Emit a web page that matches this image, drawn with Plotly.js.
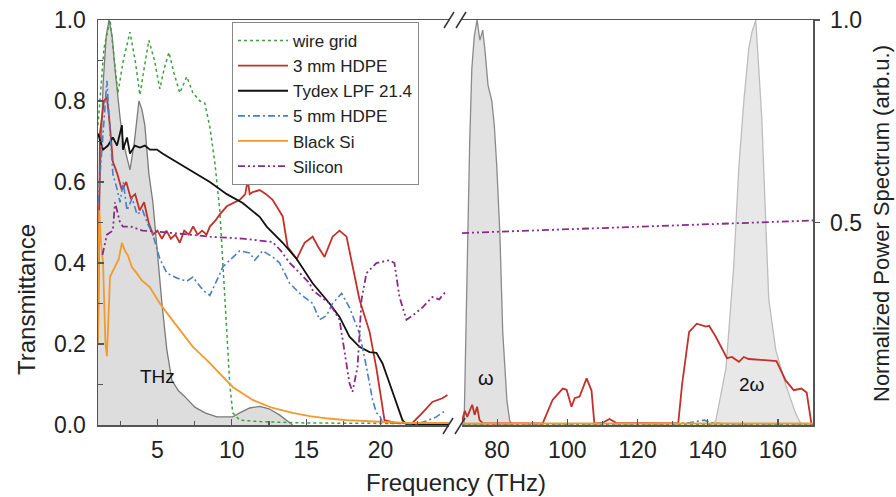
<!DOCTYPE html>
<html>
<head>
<meta charset="utf-8">
<script src="https://cdn.plot.ly/plotly-3.0.1.min.js"></script>
<style>html,body{margin:0;padding:0;background:#fff;}#chart{width:896px;height:497px;}</style>
</head>
<body>
<div id="chart"></div>
<script>
// ---------- DATA ----------
// THz pump spectrum (normalized power, left panel)
const thzFreq = [1.0,1.13,1.34,1.55,1.74,1.95,2.14,2.48,2.68,3.15,3.45,3.75,3.95,4.15,4.42,4.69,5.0,5.3,5.63,5.97,6.4,6.84,7.51,8.2,8.99,10.06,10.53,11.2,11.87,12.5,13.2,14.09];
const thzPow  = [0.45,0.62,0.84,0.96,1.0,0.96,0.88,0.76,0.70,0.63,0.70,0.80,0.78,0.74,0.62,0.55,0.42,0.30,0.185,0.11,0.085,0.07,0.044,0.03,0.02,0.02,0.03,0.042,0.046,0.04,0.025,0.0];
// fundamental (omega) spectrum, right panel
const wFreq = [70.6,71.0,71.5,72.2,72.8,73.5,74.3,75.1,75.9,76.6,77.4,78.5,79.2,79.9,80.8,81.6,82.8,83.6,84.5];
const wPow  = [0.0,0.15,0.40,0.70,0.88,0.96,1.0,0.95,0.975,0.92,0.84,0.80,0.74,0.64,0.47,0.23,0.06,0.01,0.0];
// second harmonic (2 omega) spectrum, right panel
const w2Freq = [141.0,142.3,145.2,147.4,148.9,150.3,151.7,152.6,153.7,154.5,155.4,156.5,157.4,159.4,162.2,165.0,166.7];
const w2Pow  = [0.0,0.01,0.14,0.39,0.64,0.80,0.93,0.97,1.0,0.88,0.76,0.51,0.31,0.185,0.10,0.03,0.0];

// wire grid
const wireFreqL = [1.0,1.13,1.4,1.81,2.05,2.34,2.7,3.15,3.5,3.82,4.1,4.42,4.8,5.16,5.45,5.77,6.1,6.5,6.97,7.38,7.85,8.18,8.52,8.85,9.19,9.39,9.66,9.86,10.06,10.53,12,15,20,24.6];
const wireTL    = [0.74,0.80,0.93,1.0,0.92,0.82,0.90,0.97,0.90,0.815,0.88,0.95,0.90,0.83,0.88,0.92,0.87,0.82,0.86,0.82,0.80,0.795,0.736,0.65,0.53,0.39,0.23,0.10,0.03,0.012,0.008,0.005,0.003,0.003];
const wireFreqR = [70,120,170];
const wireTR    = [0.002,0.002,0.002];

// 3 mm HDPE
const hdpe3FreqL = [1.0,1.05,1.13,1.4,1.6,1.8,2.0,2.3,2.6,2.9,3.2,3.5,3.8,4.1,4.4,4.7,5.0,5.3,5.6,5.9,6.2,6.5,6.8,7.1,7.4,7.7,8.0,8.3,8.52,8.9,9.19,9.66,10.2,10.53,10.9,11.07,11.2,11.4,11.87,12.3,12.74,13.1,13.42,13.75,14.36,14.89,15.43,15.8,16.23,16.77,17.24,17.71,18.11,18.58,19.26,19.72,20.06,20.26,21,22.14,22.81,23.48,24.15,24.5];
const hdpe3TL    = [0.21,0.50,0.72,0.80,0.81,0.74,0.65,0.62,0.58,0.60,0.56,0.57,0.53,0.55,0.50,0.47,0.48,0.46,0.48,0.46,0.47,0.45,0.48,0.47,0.49,0.47,0.48,0.47,0.49,0.505,0.52,0.54,0.55,0.556,0.57,0.605,0.57,0.575,0.58,0.57,0.556,0.535,0.515,0.44,0.41,0.45,0.465,0.44,0.415,0.465,0.48,0.465,0.39,0.31,0.23,0.14,0.06,0.012,0.005,0.005,0.03,0.057,0.066,0.074];
const hdpe3FreqR = [70,70.8,71.5,72.3,72.9,73.6,74.3,75.0,76,93,95.8,98.7,99.8,101.2,102.1,103.5,105.5,106.9,107.7,110,112,114,131.6,132.7,134.7,136.9,139.5,140.4,142.3,145.5,146.9,148.9,150.3,151.7,156.5,159.6,162.2,164.5,166.7,168.2,169.6];
const hdpe3TR    = [0.01,0.035,0.02,0.04,0.05,0.025,0.045,0.012,0.004,0.004,0.062,0.09,0.087,0.045,0.066,0.07,0.115,0.085,0.004,0.005,0.015,0.005,0.004,0.10,0.23,0.25,0.243,0.245,0.218,0.165,0.168,0.156,0.168,0.163,0.16,0.158,0.11,0.086,0.09,0.08,0.0];

// Tydex LPF 21.4
const tydexFreqL = [1.0,1.34,1.67,2.0,2.28,2.61,2.68,2.95,3.15,3.48,3.82,4.15,4.49,4.96,5.36,6.03,6.70,7.38,8.05,8.52,9.66,10.73,11.87,12.34,13.42,14.36,15.43,16.57,17.24,17.91,18.58,19.26,19.72,20.13,20.60,21.07,21.47,21.74,24.6];
const tydexTL    = [0.72,0.68,0.69,0.71,0.69,0.74,0.68,0.71,0.67,0.69,0.685,0.69,0.68,0.68,0.67,0.655,0.64,0.625,0.61,0.60,0.57,0.548,0.514,0.49,0.45,0.41,0.35,0.30,0.267,0.218,0.193,0.18,0.178,0.152,0.103,0.054,0.012,0.002,0.002];

// 5 mm HDPE
const hdpe5FreqL = [1.0,1.13,1.34,1.6,1.81,2.0,2.3,2.48,2.7,2.95,3.3,3.62,4.0,4.3,4.69,5.16,5.63,6.30,6.97,7.38,8.05,8.52,8.99,9.39,9.86,10.53,11.2,11.54,12.07,12.74,13.21,13.89,14.56,15.43,15.90,16.37,16.77,17.38,17.91,18.58,19.05,19.46,19.72,19.93,20.13,22.5,23.08,23.75,24.42];
const hdpe5TL    = [0.55,0.62,0.72,0.85,0.72,0.62,0.58,0.55,0.60,0.53,0.56,0.52,0.53,0.50,0.47,0.41,0.375,0.363,0.355,0.365,0.333,0.32,0.357,0.39,0.407,0.43,0.425,0.407,0.43,0.415,0.40,0.35,0.325,0.30,0.26,0.27,0.30,0.325,0.29,0.226,0.143,0.062,0.03,0.025,0.005,0.003,0.01,0.02,0.037];
const hdpe5FreqR = [70,130,135,139,141,144,170];
const hdpe5TR    = [0.003,0.003,0.006,0.012,0.006,0.003,0.003];

// Black Si
const bsiFreqL = [1.0,1.08,1.2,1.34,1.5,1.6,1.81,2.14,2.4,2.61,2.81,3.0,3.28,3.6,3.95,4.49,5.16,5.83,6.70,7.38,8.32,9.19,10.06,11.4,12.74,14.09,15.23,16.5,17.71,19.93,22,24.6];
const bsiTL    = [0.20,0.53,0.45,0.40,0.20,0.17,0.366,0.39,0.41,0.45,0.43,0.42,0.39,0.375,0.357,0.34,0.30,0.267,0.226,0.193,0.16,0.128,0.094,0.062,0.042,0.03,0.022,0.016,0.012,0.008,0.005,0.005];
const bsiFreqR = [70,120,170];
const bsiTR    = [0.004,0.004,0.004];

// Silicon
const siFreqL = [1.3,1.6,2.0,2.14,2.48,2.68,3.2,4.0,5.16,8.52,10.73,12.74,13.3,13.89,14.36,15.23,15.43,16.57,17.24,17.58,17.91,18.11,18.45,18.72,19.05,19.72,20.60,20.93,21.27,21.74,22.14,22.81,23.48,23.95,24.15,24.42];
const siTL    = [0.42,0.47,0.48,0.55,0.50,0.49,0.49,0.48,0.477,0.465,0.46,0.452,0.43,0.40,0.383,0.35,0.333,0.30,0.26,0.185,0.103,0.082,0.143,0.31,0.375,0.40,0.407,0.40,0.316,0.26,0.27,0.29,0.316,0.31,0.32,0.33];
const siFreqR = [70,120,170];
const siTR    = [0.474,0.49,0.505];

// axis ticks
const leftTicks = [5,10,15,20];
const rightTicks = [80,100,120,140,160];
const yTicks = [0,0.2,0.4,0.6,0.8,1.0];
const yTickText = ['0.0','0.2','0.4','0.6','0.8','1.0'];
const y2Ticks = [0.5,1.0];
const y2TickText = ['0.5','1.0'];

// ---------- STYLE ----------
const FONT = 'Liberation Sans, Arial, Helvetica, sans-serif';
const W = 896, H = 497, ML = 98, MR = 83, MT = 20, MB = 72;
const PW = W - ML - MR, PH = H - MT - MB;
const px = p => (p - ML) / PW;          // pixel -> paper x
const py = p => (H - MB - p) / PH;      // pixel -> paper y

const cRed = '#c2302a', cBlue = '#4a7fc4', cGreen = '#3f9f3f', cOrange = '#f29a2e', cPurple = '#8a2a8a', cBlack = '#111111';
const dashDot = '7px,3px,2px,3px';
const dashDotDot = '7px,3px,2px,3px,2px,3px';

function line(x, y, name, color, dash, width, axes, show) {
  return {x: x, y: y, name: name, type: 'scatter', mode: 'lines',
    xaxis: axes[0], yaxis: axes[1], showlegend: show, legendgroup: name,
    line: {color: color, dash: dash, width: width}, hoverinfo: 'skip'};
}
const L = ['x','y'], R = ['x2','y2'];

const traces = [
  {x: thzFreq, y: thzPow, type:'scatter', mode:'lines', fill:'tozeroy', xaxis:'x', yaxis:'y', showlegend:false,
   line:{color:'#7a7a7a', width:1.3}, fillcolor:'rgba(175,175,175,0.42)', hoverinfo:'skip'},
  {x: wFreq, y: wPow, type:'scatter', mode:'lines', fill:'tozeroy', xaxis:'x2', yaxis:'y2', showlegend:false,
   line:{color:'#8a8a8a', width:1.3}, fillcolor:'rgba(185,185,185,0.42)', hoverinfo:'skip'},
  {x: w2Freq, y: w2Pow, type:'scatter', mode:'lines', fill:'tozeroy', xaxis:'x2', yaxis:'y2', showlegend:false,
   line:{color:'#bdbdbd', width:1.3}, fillcolor:'rgba(205,205,205,0.45)', hoverinfo:'skip'},

  line(wireFreqL, wireTL, 'wire grid', cGreen, 'dot', 1.5, L, true),
  line(hdpe3FreqL, hdpe3TL, '3 mm HDPE', cRed, 'solid', 1.8, L, true),
  line(tydexFreqL, tydexTL, 'Tydex LPF 21.4', cBlack, 'solid', 1.8, L, true),
  line(hdpe5FreqL, hdpe5TL, '5 mm HDPE', cBlue, dashDot, 1.6, L, true),
  line(bsiFreqL, bsiTL, 'Black Si', cOrange, 'solid', 1.8, L, true),
  line(siFreqL, siTL, 'Silicon', cPurple, dashDotDot, 1.8, L, true),

  line(wireFreqR, wireTR, 'wire grid', cGreen, 'dot', 1.5, R, false),
  line(hdpe5FreqR, hdpe5TR, '5 mm HDPE', cBlue, dashDot, 1.6, R, false),
  line(hdpe3FreqR, hdpe3TR, '3 mm HDPE', cRed, 'solid', 1.8, R, false),
  line(bsiFreqR, bsiTR, 'Black Si', cOrange, 'solid', 2, R, false),
  line(siFreqR, siTR, 'Silicon', cPurple, dashDotDot, 1.8, R, false)
];

const axisCommon = {showgrid:false, zeroline:false, showline:true, linecolor:'#555', linewidth:1.5,
  ticks:'inside', ticklen:6, tickcolor:'#555', tickwidth:1.2,
  tickfont:{family:FONT, size:23, color:'#222'}, fixedrange:true};

const breakShapes = [];
[[444,28,454,12],[456,28,466,12],[443,434,453,418],[455,434,465,418]].forEach(s => {
  breakShapes.push({type:'line', xref:'paper', yref:'paper', x0:px(s[0]), y0:py(s[1]), x1:px(s[2]), y1:py(s[3]),
    line:{color:'#333', width:1.5}});
});

const layout = {
  width: W, height: H, paper_bgcolor:'#fff', plot_bgcolor:'rgba(0,0,0,0)',
  margin:{l:ML, r:MR, t:MT, b:MB, pad:0},
  font:{family:FONT, color:'#222'},
  showlegend:true,
  legend:{x:px(232), y:py(22), xanchor:'left', yanchor:'top', bgcolor:'#fff', bordercolor:'#888', borderwidth:1,
    font:{family:FONT, size:17, color:'#222'}, itemwidth:50, tracegroupgap:0},
  xaxis: Object.assign({}, axisCommon, {domain:[0, px(449)], range:[1.0, 24.6], mirror:true,
    tickvals:leftTicks, ticktext:leftTicks.map(String), ticklabelstandoff:4,
    minor:{dtick:2.5, tick0:0, ticks:'inside', ticklen:4, tickcolor:'#555'}, anchor:'y'}),
  yaxis: Object.assign({}, axisCommon, {domain:[0,1], range:[0,1], anchor:'x',
    tickvals:yTicks, ticktext:yTickText, ticklabelstandoff:6,
    minor:{dtick:0.1, tick0:0, ticks:'inside', ticklen:5, tickcolor:'#555'}}),
  xaxis2: Object.assign({}, axisCommon, {domain:[px(462), 1], range:[70, 170], mirror:true,
    tickvals:rightTicks, ticktext:rightTicks.map(String), ticklabelstandoff:4,
    minor:{dtick:10, tick0:0, ticks:'inside', ticklen:4, tickcolor:'#555'}, anchor:'y2'}),
  yaxis2: Object.assign({}, axisCommon, {domain:[0,1], range:[0,1], anchor:'x2', side:'right',
    ticks:'outside', ticklen:5, tickvals:y2Ticks, ticktext:y2TickText, ticklabelstandoff:6}),
  shapes: breakShapes,
  annotations: [
    {text:'Transmittance', xref:'paper', yref:'paper', x:px(26), y:py(300), xanchor:'center', yanchor:'middle',
     textangle:-90, showarrow:false, font:{family:FONT, size:24, color:'#222'}},
    {text:'Frequency (THz)', xref:'paper', yref:'paper', x:px(456), y:py(482), xanchor:'center', yanchor:'middle',
     showarrow:false, font:{family:FONT, size:24, color:'#222'}},
    {text:'Normalized Power Spectrum (arb.u.)', xref:'paper', yref:'paper', x:px(881), y:py(224), xanchor:'center', yanchor:'middle',
     textangle:-90, showarrow:false, font:{family:FONT, size:22, color:'#222'}},
    {text:'THz', xref:'x', yref:'y', x:4.97, y:0.121, xanchor:'center', yanchor:'middle', showarrow:false,
     font:{family:FONT, size:19, color:'#111'}},
    {text:'ω', xref:'x2', yref:'y2', x:76.8, y:0.115, xanchor:'center', yanchor:'middle', showarrow:false,
     font:{family:FONT, size:20, color:'#111'}},
    {text:'2ω', xref:'x2', yref:'y2', x:152.6, y:0.10, xanchor:'center', yanchor:'middle', showarrow:false,
     font:{family:FONT, size:19, color:'#111'}}
  ]
};

Plotly.newPlot('chart', traces, layout, {staticPlot:true, displayModeBar:false});
</script>
</body>
</html>
